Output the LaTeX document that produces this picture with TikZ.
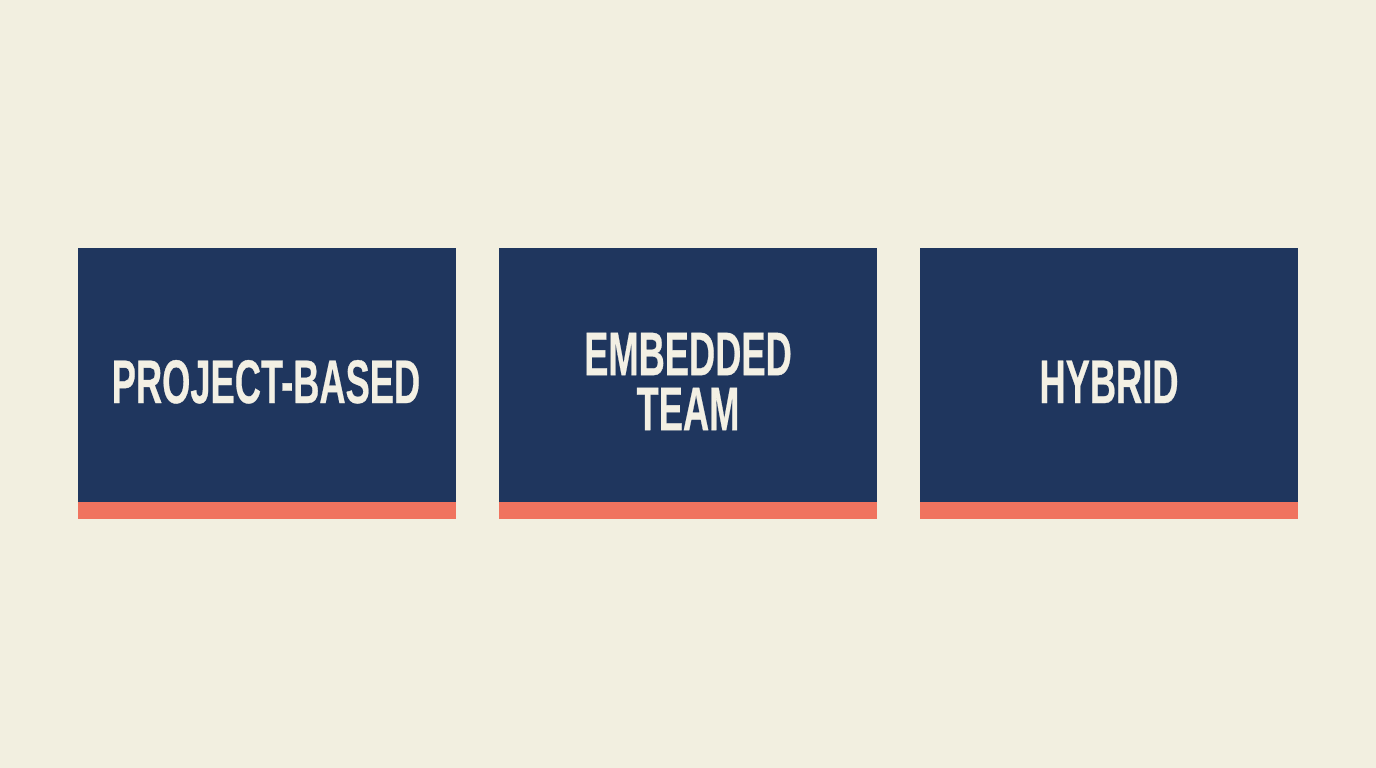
\documentclass[tikz,border=0pt]{standalone}
\usepackage{fontspec}
\usepackage{graphicx}
\newfontfamily\lblfont[FakeBold=0.6]{Liberation Sans Bold}
\definecolor{bgc}{HTML}{F2EFE0}
\definecolor{navy}{HTML}{1F365E}
\definecolor{coral}{HTML}{F0735F}
\definecolor{ink}{HTML}{F3F0E4}
\newcommand{\lbl}[1]{\scalebox{0.59}[1]{\lblfont\fontsize{61.5}{55}\selectfont #1}}
\tikzset{
  panel/.style={fill=navy, draw=none, inner sep=0pt, minimum width=378pt, minimum height=254pt, anchor=north west},
  bar/.style={fill=coral, draw=none, inner sep=0pt, minimum width=378pt, minimum height=17pt, anchor=north west},
  label/.style={text=ink, inner sep=0pt, align=center, font=\fontsize{61.5}{55}\selectfont}
}
\begin{document}
\begin{tikzpicture}[x=1pt,y=-1pt]
\fill[bgc] (0,0) rectangle (1376,768);
\useasboundingbox (0,0) rectangle (1376,768);
% panels
\node[panel] (p1) at (78,248) {};
\node[bar] (b1) at (78,502) {};
\node[panel] (p2) at (499,248) {};
\node[bar] (b2) at (499,502) {};
\node[panel] (p3) at (920,248) {};
\node[bar] (b3) at (920,502) {};
% labels
\node[label, anchor=base] (t1) at (266,403) {\lbl{PROJECT-BASED}};
\node[label, anchor=center] (t2) at (688,381.5) {\lbl{EMBEDDED}\\\lbl{TEAM}};
\node[label, anchor=base] (t3) at (1109,403) {\lbl{HYBRID}};
\end{tikzpicture}
\end{document}
